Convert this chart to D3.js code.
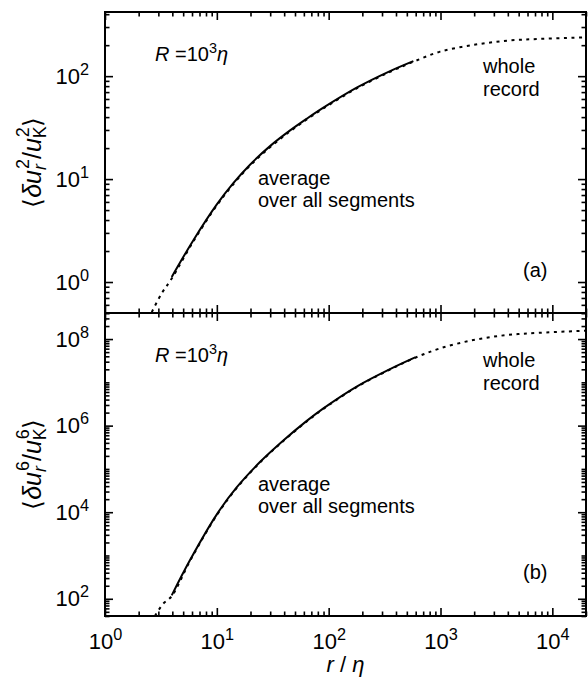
<!DOCTYPE html>
<html>
<head>
<meta charset="utf-8">
<script src="https://cdn.jsdelivr.net/npm/d3@7"></script>
<style>
    body { margin: 0; background: #fff; }
    text { font-family: "Liberation Sans", Arial, Helvetica, sans-serif; fill: #000; }
    .domain { display: none; }
    .tick line { stroke: #000; stroke-width: 1.6; }
</style>
</head>
<body>
<svg class="sf_chart" width="588" height="683"></svg>
<script>
// panel (a): second order
var rSegA   = [3.95, 6.17, 10, 14.1, 19.8, 29.9, 45.2, 63.7, 89.7, 178, 354, 572];
var segA    = [1.12, 2.55, 5.68, 9.18, 13.8, 20.9, 29.7, 38.6, 49.4, 77.3, 112, 140];
var rWholeA = [2.62, 3.2, 3.95, 6.17, 10, 14.1, 19.8, 29.9, 45.2, 63.7, 89.7, 178, 354, 572, 991, 1970, 3920, 7780, 20000];
var wholeA  = [0.51, 0.77, 1.08, 2.48, 5.55, 8.95, 13.5, 20.4, 29.1, 37.9, 48.5, 76, 110, 138, 173, 201, 221, 230, 238];

// panel (b): sixth order
var rSegB   = [3.95, 5.76, 10, 15.1, 24.3, 39.3, 63.7, 89.7, 178, 354, 593];
var segB    = [120, 785, 8930, 3.78e4, 1.44e5, 4.54e5, 1.29e6, 2.51e6, 8.0e6, 2.03e7, 3.78e7];
var rWholeB = [2.8, 3.3, 3.95, 5.76, 10, 15.1, 24.3, 39.3, 63.7, 89.7, 178, 354, 593, 991, 1970, 3920, 7780, 20000];
var wholeB  = [40, 76, 115, 750, 8600, 3.65e4, 1.4e5, 4.4e5, 1.25e6, 2.44e6, 7.8e6, 1.98e7, 3.7e7, 6.1e7, 9.5e7, 1.24e8, 1.4e8, 1.56e8];

var xTicks  = [1, 10, 100, 1000, 10000];
var yTicksA = [1, 10, 100];
var yTicksB = [1e2, 1e4, 1e6, 1e8];

var left = 105,
    width = 481;

var svg = d3.select(".sf_chart");

var x = d3.scaleLog()
    .domain([1, 20000])
    .range([0, width]);

// minor ticks 2..9 of every decade inside a domain
function minorTicks(domain, skip) {
    var out = [];
    for (var e = -3; e < 10; e++) {
        for (var k = 1; k < 10; k++) {
            var v = k * Math.pow(10, e);
            if (v < domain[0] * 0.999 || v > domain[1] * 1.001) continue;
            if (skip.indexOf(v) >= 0) continue;
            out.push(v);
        }
    }
    return out;
}

// "10" with exponent as superscript
function powLabels(g) {
    g.attr("font-size", 22)
        .attr("font-family", "Liberation Sans, Arial, sans-serif");
    g.selectAll(".tick text").each(function (d) {
        var t = d3.select(this);
        t.text(null);
        t.append("tspan").text("10");
        t.append("tspan")
            .attr("font-size", "0.74em")
            .attr("dy", "-0.55em")
            .text(Math.round(Math.log10(d)));
    });
}

var panels = [
    { top: 12, h: 301, domain: [0.5, 420], ticks: yTicksA, id: "a",
      seg: [rSegA, segA], whole: [rWholeA, wholeA], order: "2", bottomLabels: false },
    { top: 313, h: 303, domain: [40, 4e8], ticks: yTicksB, id: "b",
      seg: [rSegB, segB], whole: [rWholeB, wholeB], order: "6", bottomLabels: true }
];

var xMinor = minorTicks(x.domain(), xTicks);

panels.forEach(function (p) {
    var y = d3.scaleLog()
        .domain(p.domain)
        .range([p.h, 0]);

    var wrapper = svg.append("g")
        .attr("transform", "translate(" + left + "," + p.top + ")");

    wrapper.append("clipPath")
        .attr("id", "clip_" + p.id)
        .append("rect")
        .attr("width", width)
        .attr("height", p.h);

    var yMinor = minorTicks(p.domain, p.ticks);

    // left
    wrapper.append("g").call(d3.axisLeft(y).tickValues(yMinor).tickSize(-4.5).tickFormat(""));
    wrapper.append("g")
        .call(d3.axisLeft(y).tickValues(p.ticks).tickSize(-8).tickPadding(16))
        .call(powLabels);
    // right
    var rg = wrapper.append("g").attr("transform", "translate(" + width + ",0)");
    rg.append("g").call(d3.axisRight(y).tickValues(yMinor).tickSize(-4.5).tickFormat(""));
    rg.append("g").call(d3.axisRight(y).tickValues(p.ticks).tickSize(-8).tickFormat(""));
    // top
    wrapper.append("g").call(d3.axisTop(x).tickValues(xMinor).tickSize(-4.5).tickFormat(""));
    wrapper.append("g").call(d3.axisTop(x).tickValues(xTicks).tickSize(-8).tickFormat(""));
    // bottom
    var bg = wrapper.append("g").attr("transform", "translate(0," + p.h + ")");
    bg.append("g").call(d3.axisBottom(x).tickValues(xMinor).tickSize(-4.5).tickFormat(""));
    if (p.bottomLabels) {
        bg.append("g")
            .call(d3.axisBottom(x).tickValues(xTicks).tickSize(-8).tickPadding(17))
            .call(powLabels);
    } else {
        bg.append("g").call(d3.axisBottom(x).tickValues(xTicks).tickSize(-8).tickFormat(""));
    }

    var line = d3.line()
        .x(function (d) { return x(d[0]); })
        .y(function (d) { return y(d[1]); })
        .curve(d3.curveCatmullRom.alpha(0.5));

    var plot = wrapper.append("g").attr("clip-path", "url(#clip_" + p.id + ")");

    plot.append("path")
        .datum(d3.zip(p.whole[0], p.whole[1]))
        .attr("d", line)
        .style("fill", "none")
        .style("stroke", "#000")
        .style("stroke-width", 2)
        .style("stroke-dasharray", "3,4.5");

    plot.append("path")
        .datum(d3.zip(p.seg[0], p.seg[1]))
        .attr("d", line)
        .style("fill", "none")
        .style("stroke", "#000")
        .style("stroke-width", 2);

    wrapper.append("rect")
        .attr("width", width)
        .attr("height", p.h)
        .style("fill", "none")
        .style("stroke", "#000")
        .style("stroke-width", 2);

    // R = 10^3 eta
    var rt = wrapper.append("text")
        .attr("x", 50)
        .attr("y", 49)
        .attr("font-size", 20);
    rt.append("tspan").attr("font-style", "italic").text("R");
    rt.append("tspan").text(" =10");
    rt.append("tspan").attr("font-size", "0.72em").attr("dy", -8).text("3");
    rt.append("tspan").attr("font-style", "italic").attr("dy", 8).text("η");

    var off = p.id == "a" ? 0 : 305;
    wrapper.append("text").attr("x", 153).attr("y", 173 + (p.id == "a" ? 0 : 5)).attr("font-size", 20).text("average");
    wrapper.append("text").attr("x", 153).attr("y", 195 + (p.id == "a" ? 0 : 5)).attr("font-size", 20).text("over all segments");

    var off2 = p.id == "a" ? 61 : 54;
    wrapper.append("text").attr("x", 378).attr("y", off2).attr("font-size", 20).text("whole");
    wrapper.append("text").attr("x", 378).attr("y", off2 + 23).attr("font-size", 20).text("record");

    wrapper.append("text")
        .attr("x", 418)
        .attr("y", p.id == "a" ? 265 : 266)
        .attr("font-size", 20)
        .text("(" + p.id + ")");

    // y title  <du_r^n / u_K^n>
    var yt = svg.append("text")
        .attr("transform", "translate(41," + (p.top + p.h / 2) + ") rotate(-90)")
        .attr("text-anchor", "middle")
        .attr("font-size", 25);
    yt.append("tspan").text("\u27E8");
    yt.append("tspan").attr("font-style", "italic").text("δu");
    yt.append("tspan").attr("font-style", "italic").attr("font-size", "0.72em").attr("dy", 5).text("r");
    yt.append("tspan").attr("font-size", "0.72em").attr("dx", -5).attr("dy", -17).text(p.order);
    yt.append("tspan").attr("dy", 12).text("/");
    yt.append("tspan").attr("font-style", "italic").text("u");
    yt.append("tspan").attr("font-size", "0.72em").attr("dy", 5).text("K");
    yt.append("tspan").attr("font-size", "0.72em").attr("dx", -11).attr("dy", -17).text(p.order);
    yt.append("tspan").attr("dy", 12).text("\u27E9");
});

// x title
var xt = svg.append("text")
    .attr("x", left + width / 2)
    .attr("y", 672)
    .attr("text-anchor", "middle")
    .attr("font-size", 22);
xt.append("tspan").attr("font-style", "italic").text("r");
xt.append("tspan").text(" / ");
xt.append("tspan").attr("font-style", "italic").text("η");
</script>
</body>
</html>
